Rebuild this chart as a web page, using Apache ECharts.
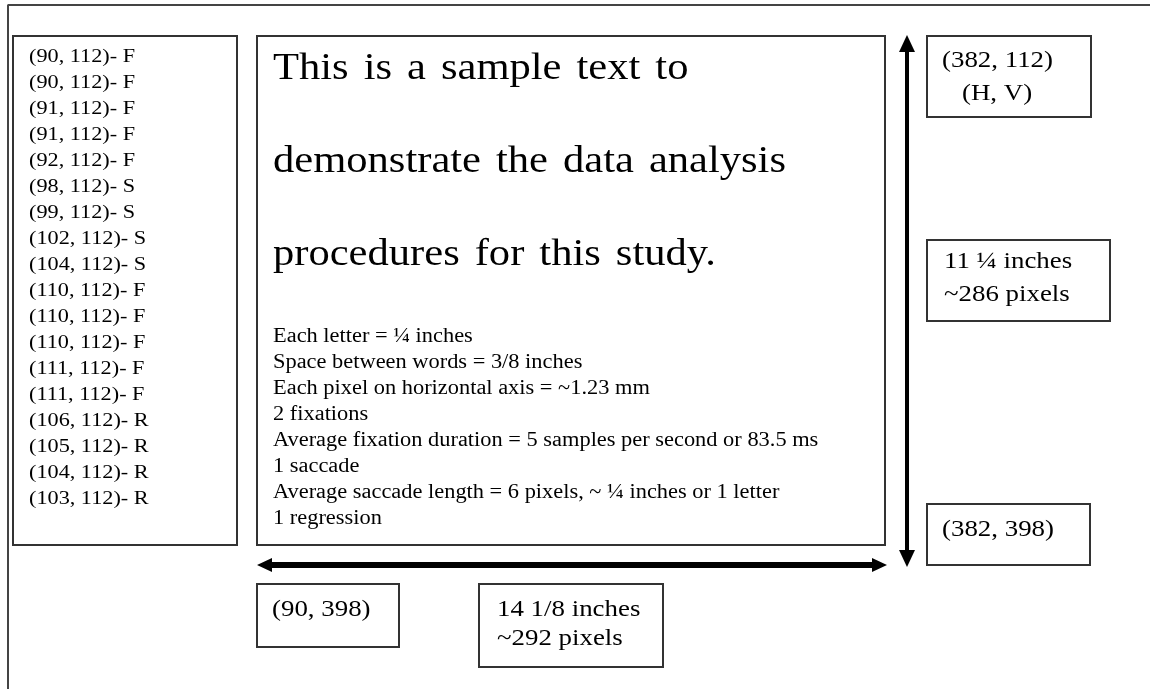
<!DOCTYPE html>
<html>
<head>
<meta charset="utf-8">
<script src="https://cdn.jsdelivr.net/npm/echarts@6/dist/echarts.min.js"></script>
<style>
  html, body { margin: 0; padding: 0; background: #fff; }
  #chart { width: 1150px; height: 689px; }
</style>
</head>
<body>
<div id="chart"></div>
<script>
// text content of the figure
const fixationLog = [
  '(90, 112)- F', '(90, 112)- F', '(91, 112)- F', '(91, 112)- F', '(92, 112)- F',
  '(98, 112)- S', '(99, 112)- S', '(102, 112)- S', '(104, 112)- S',
  '(110, 112)- F', '(110, 112)- F', '(110, 112)- F', '(111, 112)- F', '(111, 112)- F',
  '(106, 112)- R', '(105, 112)- R', '(104, 112)- R', '(103, 112)- R'
];
const sampleText = [
  'This is a sample text to',
  'demonstrate the data analysis',
  'procedures for this study.'
];
const notes = [
  'Each letter = \u00bc inches',
  'Space between words = 3/8 inches',
  'Each pixel on horizontal axis = ~1.23 mm',
  '2 fixations',
  'Average fixation duration = 5 samples per second or 83.5 ms',
  '1 saccade',
  'Average saccade length = 6 pixels, ~ \u00bc inches or 1 letter',
  '1 regression'
];
const topRightLabel = ['(382, 112)', '(H, V)'];
const heightLabel = ['11 \u00bc inches', '~286 pixels'];
const bottomRightLabel = ['(382, 398)'];
const bottomLeftLabel = ['(90, 398)'];
const widthLabel = ['14 1/8 inches', '~292 pixels'];

// layout (page pixels, y grows downward)
const serif = "'Liberation Serif', 'Times New Roman', serif";
const boxes = [
  { x1: 13, y1: 36, x2: 237, y2: 545, blocks: [
    { lines: fixationLog, x: 29, y: 57, lh: 26, size: 19, sx: 1.17 }] },
  { x1: 257, y1: 36, x2: 885, y2: 545, blocks: [
    { lines: sampleText, x: 273, y: 69, lh: 93, size: 38, sx: 1.12, wordGap: 15 },
    { lines: notes, x: 273, y: 337, lh: 26, size: 20, sx: 1.12 }] },
  { x1: 927, y1: 36, x2: 1091, y2: 117, blocks: [
    { lines: topRightLabel.slice(0, 1), x: 942, y: 61, lh: 33, size: 24, sx: 1.12 },
    { lines: topRightLabel.slice(1), x: 962, y: 94, lh: 33, size: 24, sx: 1.12 }] },
  { x1: 927, y1: 240, x2: 1110, y2: 321, blocks: [
    { lines: heightLabel, x: 944, y: 262, lh: 33, size: 24, sx: 1.12 }] },
  { x1: 927, y1: 504, x2: 1090, y2: 565, blocks: [
    { lines: bottomRightLabel, x: 942, y: 530, lh: 33, size: 24, sx: 1.12 }] },
  { x1: 257, y1: 584, x2: 399, y2: 647, blocks: [
    { lines: bottomLeftLabel, x: 272, y: 610, lh: 33, size: 24, sx: 1.12 }] },
  { x1: 479, y1: 584, x2: 663, y2: 667, blocks: [
    { lines: widthLabel, x: 497, y: 610, lh: 29, size: 24, sx: 1.12 }] }
];
const arrows = [
  { from: [257, 565], to: [887, 565], width: 6, head: 15, headW: 14 },
  { from: [907, 35], to: [907, 567], width: 4, head: 17, headW: 16 }
];
const frame = [[1150, 5], [8, 5], [8, 689]];

const chart = echarts.init(document.getElementById('chart'));
const measureCtx = document.createElement('canvas').getContext('2d');

function textEl(t, p, blk) {
  return {
    type: 'text', x: p[0], y: p[1], scaleX: blk.sx,
    style: { text: t, font: blk.size + 'px ' + serif, fill: '#000', align: 'left', verticalAlign: 'middle' }
  };
}

function renderBox(params, api) {
  const b = boxes[params.dataIndex];
  const p1 = api.coord([b.x1, b.y1]);
  const p2 = api.coord([b.x2, b.y2]);
  const children = [{
    type: 'rect',
    shape: { x: p1[0], y: p1[1], width: p2[0] - p1[0], height: p2[1] - p1[1] },
    style: { fill: '#fff', stroke: '#333', lineWidth: 2 }
  }];
  b.blocks.forEach(blk => {
    blk.lines.forEach((t, i) => {
      const p = api.coord([blk.x, blk.y + i * blk.lh]);
      if (!blk.wordGap) {
        children.push(textEl(t, p, blk));
        return;
      }
      // wide word spacing, as in the original typed sample
      measureCtx.font = blk.size + 'px ' + serif;
      let x = p[0];
      t.split(' ').forEach(w => {
        children.push(textEl(w, [x, p[1]], blk));
        x += measureCtx.measureText(w).width * blk.sx + blk.wordGap;
      });
    });
  });
  return { type: 'group', children };
}

function headPoints(tip, dir, len, w) {
  const nx = -dir[1], ny = dir[0];
  const bx = tip[0] - dir[0] * len, by = tip[1] - dir[1] * len;
  return [tip, [bx + nx * w / 2, by + ny * w / 2], [bx - nx * w / 2, by - ny * w / 2]];
}

function renderArrow(params, api) {
  const a = arrows[params.dataIndex];
  const s = api.coord(a.from), e = api.coord(a.to);
  const dx = e[0] - s[0], dy = e[1] - s[1];
  const len = Math.sqrt(dx * dx + dy * dy);
  const d = [dx / len, dy / len];
  const back = [-d[0], -d[1]];
  return {
    type: 'group',
    children: [
      { type: 'line',
        shape: { x1: s[0] + d[0] * a.head * 0.8, y1: s[1] + d[1] * a.head * 0.8, x2: e[0] - d[0] * a.head * 0.8, y2: e[1] - d[1] * a.head * 0.8 },
        style: { stroke: '#000', lineWidth: a.width } },
      { type: 'polygon', shape: { points: headPoints(e, d, a.head, a.headW) }, style: { fill: '#000' } },
      { type: 'polygon', shape: { points: headPoints(s, back, a.head, a.headW) }, style: { fill: '#000' } }
    ]
  };
}

chart.setOption({
  animation: false,
  backgroundColor: '#fff',
  grid: { left: 0, right: 0, top: 0, bottom: 0 },
  xAxis: { type: 'value', min: 0, max: 1150, show: false },
  yAxis: { type: 'value', min: 0, max: 689, inverse: true, show: false },
  series: [
    {
      type: 'line',
      data: frame,
      symbol: 'none',
      silent: true,
      lineStyle: { color: '#444', width: 2 }
    },
    {
      type: 'custom',
      silent: true,
      data: boxes.map(b => [b.x1, b.y1]),
      renderItem: renderBox
    },
    {
      type: 'custom',
      silent: true,
      data: arrows.map(a => a.from),
      renderItem: renderArrow
    }
  ]
});
</script>
</body>
</html>
